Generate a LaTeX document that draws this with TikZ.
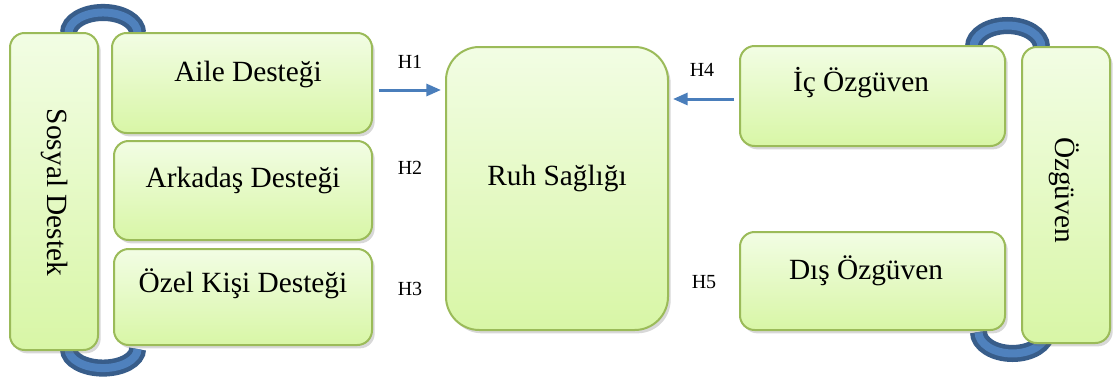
\documentclass[tikz,border=0pt]{standalone}
\usepackage{fontspec}
\setmainfont{Liberation Serif}
\usetikzlibrary{arrows.meta,shadows}
\definecolor{boxBorder}{HTML}{9BBB59}
\definecolor{boxTop}{HTML}{F2FDE4}
\definecolor{boxBottom}{HTML}{D8F6A6}
\definecolor{handleDark}{HTML}{385D8A}
\definecolor{handleLight}{HTML}{4F81BD}
\definecolor{arrowColor}{HTML}{4A7EBB}

\begin{document}
\begin{tikzpicture}[x=0.75pt,y=0.75pt,
box/.style={shape=rectangle,draw=boxBorder,line width=1.5pt,rounded corners=11pt,
    top color=boxTop,bottom color=boxBottom,inner sep=0,
    drop shadow={shadow xshift=2pt,shadow yshift=-2.5pt,opacity=0.25,fill=black!60}},
boxText/.style={font=\fontsize{22}{26}\selectfont,inner sep=0},
hLabel/.style={font=\fontsize{15}{18}\selectfont,inner sep=0},
handle/.style={draw=handleDark,line width=3.4pt,double=handleLight,double distance=6pt},
link/.style={-{Triangle[length=11pt,width=9pt]},line width=2.25pt,draw=arrowColor}
]
\fill[white] (0,0) rectangle (1114,376);
\useasboundingbox (0,0) rectangle (1114,376);
% handles
\draw[handle] (68.5,343) arc[start angle=180,end angle=0,x radius=25.9pt,y radius=15.4pt];
\draw[handle] (68.5,27) arc[start angle=180,end angle=360,x radius=25.9pt,y radius=14.3pt];
\draw[handle] (973.5,329) arc[start angle=180,end angle=0,x radius=25.5pt,y radius=16.1pt];
\draw[handle] (978.5,44) arc[start angle=180,end angle=360,x radius=25.5pt,y radius=16.1pt];
% boxes
\node[box,minimum width=66pt,minimum height=237.75pt] (sosyal) at (54,184.5) {};
\node[box,minimum width=195pt,minimum height=75pt] (aile) at (242,293) {};
\node[box,minimum width=193.5pt,minimum height=74.25pt] (arkadas) at (243,185.5) {};
\node[box,minimum width=193.5pt,minimum height=72pt] (ozel) at (243,79) {};
\node[box,minimum width=166.5pt,minimum height=212.25pt,rounded corners=25pt] (ruh) at (557,187.5) {};
\node[box,minimum width=198.75pt,minimum height=75pt] (ic) at (872.5,280) {};
\node[box,minimum width=198.75pt,minimum height=73.5pt] (dis) at (872.5,95) {};
\node[box,minimum width=66pt,minimum height=222pt] (ozguven) at (1066,181) {};
% texts
\node[boxText,rotate=-90] (sosyalT) at (55,183.5) {Sosyal Destek};
\node[boxText,anchor=base] (aileT) at (248,294.5) {Aile Desteği};
\node[boxText,anchor=base] (arkadasT) at (243,189) {Arkadaş Desteği};
\node[boxText,anchor=base] (ozelT) at (243,83.5) {Özel Kişi Desteği};
\node[boxText,anchor=base] (ruhT) at (557,191) {Ruh Sağlığı};
\node[boxText,anchor=base] (icT) at (861,284.5) {İç Özgüven};
\node[boxText,anchor=base] (disT) at (866,96.5) {Dış Özgüven};
\node[boxText,rotate=-90] (ozguvenT) at (1064,186) {Özgüven};
% hypotheses
\node[hLabel,anchor=base] (h1Label) at (410,308) {H1};
\node[hLabel,anchor=base] (h2Label) at (410,202) {H2};
\node[hLabel,anchor=base] (h3Label) at (410,81) {H3};
\node[hLabel,anchor=base] (h4Label) at (702,300) {H4};
\node[hLabel,anchor=base] (h5Label) at (704,88) {H5};
\draw[link,shorten >=3pt] ([shift={(6,-7)}]aile.east) coordinate (h1Start) -- (h1Start -| ruh.west);
\draw[link,shorten >=3pt] ([shift={(-5,-3)}]ic.west) coordinate (h4Start) -- (h4Start -| ruh.east);
\end{tikzpicture}
\end{document}
